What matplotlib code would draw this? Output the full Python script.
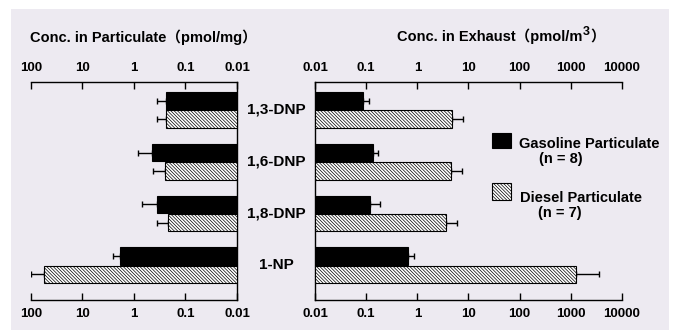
import matplotlib
matplotlib.use("Agg")
import matplotlib.pyplot as plt
import matplotlib.transforms as mtransforms
from matplotlib.patches import Rectangle
from matplotlib.ticker import NullLocator
import numpy as np

plt.rcParams['font.family'] = ['Liberation Sans', 'Noto Sans CJK JP', 'DejaVu Sans']
plt.rcParams['font.weight'] = 'bold'
plt.rcParams['hatch.linewidth'] = 0.5

# data
compounds = ['1,3-DNP', '1,6-DNP', '1,8-DNP', '1-NP']
# concentration in particulate (pmol/mg)
part_gas = [0.24, 0.45, 0.36, 1.9]
part_gas_sd = [0.12, 0.39, 0.34, 0.6]
part_dsl = [0.24, 0.25, 0.22, 56.0]
part_dsl_sd = [0.12, 0.18, 0.14, 44.0]
# concentration in exhaust (pmol/m3)
exh_gas = [0.088, 0.134, 0.12, 0.65]
exh_gas_sd = [0.026, 0.036, 0.07, 0.22]
exh_dsl = [4.8, 4.5, 3.7, 1290.0]
exh_dsl_sd = [3.0, 2.9, 2.2, 2270.0]

left_ticks = [100, 10, 1, 0.1, 0.01]
left_labels = ['100', '10', '1', '0.1', '0.01']
right_ticks = [0.01, 0.1, 1, 10, 100, 1000, 10000]
right_labels = ['0.01', '0.1', '1', '10', '100', '1000', '10000']

BG = '#edeaf1'
HATCH = '\\' * 10
fig = plt.figure(figsize=(6.74, 3.33), dpi=100)
fig.patch.set_facecolor('white')
fig.patches.append(Rectangle((0.0163, 0.009), 0.9763, 0.964, transform=fig.transFigure,
                             facecolor=BG, edgecolor='none', zorder=-10))

ax_l = fig.add_axes([0.046, 0.0991, 0.3056, 0.6547])
ax_r = fig.add_axes([0.4674, 0.0991, 0.4554, 0.6547])

ypos = np.array([3, 2, 1, 0])
off = 0.175
h = 0.34
base = 0.01


def draw_panel(ax, gas, gas_sd, dsl, dsl_sd):
    gas = np.array(gas)
    dsl = np.array(dsl)
    ax.errorbar(gas, ypos + off, xerr=[np.zeros(4), gas_sd], fmt='none', ecolor='black',
                elinewidth=1, capsize=2.3, capthick=1, zorder=2)
    ax.errorbar(dsl, ypos - off, xerr=[np.zeros(4), dsl_sd], fmt='none', ecolor='black',
                elinewidth=1, capsize=2.3, capthick=1, zorder=2)
    ax.barh(ypos + off, gas - base, left=base, height=h, color='black',
            edgecolor='black', linewidth=0.8, zorder=3)
    ax.barh(ypos - off, dsl - base, left=base, height=h, color='white',
            edgecolor='black', linewidth=0.8, hatch=HATCH, zorder=3)
    ax.set_facecolor('none')
    ax.set_xscale('log')
    ax.set_ylim(-0.67, 3.54)
    ax.set_yticks([])
    ax.xaxis.set_minor_locator(NullLocator())
    ax.tick_params(axis='x', which='both', top=True, bottom=True, labeltop=True,
                   labelbottom=True, direction='in', length=5, width=1, labelsize=9.5)
    ax.tick_params(axis='x', which='major', pad=6)
    for s in ax.spines.values():
        s.set_linewidth(1)


draw_panel(ax_l, part_gas, part_gas_sd, part_dsl, part_dsl_sd)
ax_l.set_xlim(100, 0.01)
ax_l.set_xticks(left_ticks)
ax_l.set_xticklabels(left_labels)
ax_l.spines['left'].set_visible(False)

draw_panel(ax_r, exh_gas, exh_gas_sd, exh_dsl, exh_dsl_sd)
ax_r.set_xlim(0.01, 10000)
ax_r.set_xticks(right_ticks)
ax_r.set_xticklabels(right_labels)
ax_r.spines['right'].set_visible(False)

# compound labels between the panels
trans = mtransforms.blended_transform_factory(fig.transFigure, ax_l.transData)
for name, y in zip(compounds, ypos):
    ax_l.text(0.41, y, name, transform=trans, ha='center', va='center',
              fontsize=11, fontweight='bold')

fig.text(0.045, 0.888, 'Conc. in Particulate（pmol/mg）', fontsize=10.5,
         fontweight='bold', va='center')

# exhaust title with raised 3
renderer = fig.canvas.get_renderer()
t1 = fig.text(0.589, 0.891, 'Conc. in Exhaust（pmol/m', fontsize=10.5,
              fontweight='bold', va='center')
bb = t1.get_window_extent(renderer).transformed(fig.transFigure.inverted())
t2 = fig.text(bb.x1 + 0.001, 0.905, '3', fontsize=9, fontweight='bold', va='center')
bb2 = t2.get_window_extent(renderer).transformed(fig.transFigure.inverted())
fig.text(bb2.x1, 0.891, '）', fontsize=10.5, fontweight='bold', va='center')

# legend
fig.patches.append(Rectangle((0.730, 0.5556), 0.0282, 0.045, transform=fig.transFigure,
                             facecolor='black', edgecolor='black', linewidth=0.8))
fig.patches.append(Rectangle((0.730, 0.399), 0.0282, 0.051, transform=fig.transFigure,
                             facecolor='white', edgecolor='black', linewidth=0.8,
                             hatch=HATCH))
fig.text(0.770, 1 - 144 / 333, 'Gasoline Particulate', fontsize=10.5, va='center')
fig.text(0.800, 1 - 159 / 333, '(n = 8)', fontsize=10.5, va='center')
fig.text(0.771, 1 - 198 / 333, 'Diesel Particulate', fontsize=10.5, va='center')
fig.text(0.798, 1 - 213 / 333, '(n = 7)', fontsize=10.5, va='center')

fig.savefig('out.png', dpi=100, facecolor='white')
